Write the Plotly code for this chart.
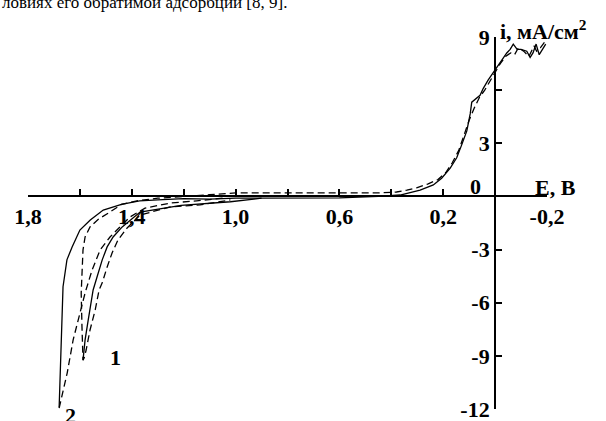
import plotly.graph_objects as go

# ---------------- data ----------------
# Curve 2, solid (anodic branch -> flat -> cathodic dive to -12)
e_s2 = [-0.195, -0.183, -0.17, -0.158, -0.146, -0.135, -0.122, -0.10, -0.085, -0.07, -0.058,
        -0.045, -0.02, 0.0, 0.027, 0.046, 0.058, 0.09, 0.096, 0.109, 0.128, 0.148, 0.173,
        0.206, 0.238, 0.289, 0.366, 0.45, 0.6, 0.8, 1.0, 1.1, 1.2, 1.3, 1.37, 1.44, 1.51,
        1.56, 1.60, 1.63, 1.65, 1.665, 1.67, 1.676, 1.68]
i_s2 = [8.6, 8.3, 8.0, 8.6, 8.1, 7.85, 8.2, 8.3, 8.3, 8.6, 8.3,
        8.1, 7.6, 7.15, 6.56, 6.09, 5.71, 5.32, 4.66, 3.70, 2.94, 2.18, 1.60,
        1.03, 0.65, 0.36, 0.08, 0.0, -0.08, -0.08, -0.1, -0.15, -0.12, -0.2, -0.25, -0.45, -0.77,
        -1.33, -1.9, -2.85, -3.58, -5.1, -7.4, -9.2, -11.9]

# Curve 2, dashed return from -12
e_d2 = [1.68, 1.649, 1.626, 1.60, 1.58, 1.553, 1.522, 1.484, 1.445, 1.407, 1.349, 1.25, 1.15, 1.05]
i_d2 = [-11.95, -9.97, -8.1, -6.58, -5.45, -4.15, -3.02, -2.29, -1.72, -1.16, -0.66, -0.37, -0.25, -0.1]

# Curve 1, dashed (anodic branch -> flat above axis -> dive to -9 -> back)
e_d1 = [-0.19, -0.175, -0.16, -0.15, -0.13, -0.11, -0.09, -0.075, -0.06, -0.04, -0.02, 0.0,
        0.02, 0.04, 0.06, 0.08, 0.1, 0.12, 0.14, 0.165, 0.19, 0.22, 0.26, 0.3, 0.34, 0.38,
        0.45, 0.6, 0.8, 1.0, 1.1, 1.2, 1.3, 1.38, 1.44, 1.484, 1.53, 1.561, 1.58, 1.588,
        1.592, 1.595, 1.592, 1.588, 1.588,
        1.583, 1.576, 1.561, 1.541, 1.526, 1.514, 1.495, 1.476, 1.453, 1.418, 1.368, 1.252,
        1.137, 1.02]
i_d1 = [8.7, 8.4, 8.2, 8.5, 7.9, 8.2, 8.4, 8.0, 8.1, 7.9, 7.5, 7.0,
        6.5, 6.0, 5.6, 5.0, 4.3, 3.4, 2.6, 1.9, 1.35, 0.95, 0.7, 0.5, 0.35, 0.25,
        0.2, 0.2, 0.2, 0.2, 0.1, 0.0, -0.1, -0.25, -0.45, -0.88, -1.3, -1.72, -2.29, -3.02,
        -4.15, -5.45, -7.37, -8.5, -9.24,
        -9.1, -8.67, -7.54, -6.41, -5.28, -4.88, -3.98, -3.19, -2.45, -1.78, -1.05, -0.59,
        -0.48, -0.2]

# Curve 1, solid return
e_s1 = [1.588, 1.58, 1.568, 1.549, 1.534, 1.514, 1.495, 1.472, 1.437, 1.368, 1.21, 1.02, 0.9]
i_s1 = [-9.24, -8.1, -6.98, -5.28, -4.55, -3.58, -2.85, -2.29, -1.72, -0.88, -0.5, -0.3, -0.1]

x_tickvals = [1.8, 1.6, 1.4, 1.2, 1.0, 0.8, 0.6, 0.4, 0.2, -0.2]
x_ticktext = ["1,8", "", "1,4", "", "1,0", "", "0,6", "", "0,2", "-0,2"]
y_tickvals = [-12, -9, -6, -3, 3, 6, 9]
y_ticktext = ["-12", "-9", "-6", "-3", "3", "", "9"]

top_text = "ловиях его обратимой адсорбции [8, 9]."

# ---------------- layout helpers ----------------
W, H = 606, 421
L, R, T, B = 28, 59, 37, 12
XR = [1.8, -0.2]
YR = [-12, 9]

def px(x):
    return (x - L) / (W - L - R)

def py(y):
    return (H - B - y) / (H - T - B)

FONT = "Liberation Serif"
bold = dict(family=FONT, size=22, color="black", weight="bold")

fig = go.Figure()
line_solid = dict(color="black", width=1.3)
line_dash = dict(color="black", width=1.3, dash="7px,4px")

fig.add_trace(go.Scatter(x=e_s2, y=i_s2, mode="lines", line=line_solid, showlegend=False))
fig.add_trace(go.Scatter(x=e_d2, y=i_d2, mode="lines", line=line_dash, showlegend=False))
fig.add_trace(go.Scatter(x=e_d1, y=i_d1, mode="lines", line=line_dash, showlegend=False))
fig.add_trace(go.Scatter(x=e_s1, y=i_s1, mode="lines", line=line_solid, showlegend=False))

fig.update_layout(
    width=W, height=H,
    margin=dict(l=L, r=R, t=T, b=B, autoexpand=False),
    paper_bgcolor="white", plot_bgcolor="white",
    xaxis=dict(range=XR, anchor="free", position=(0 - YR[0]) / (YR[1] - YR[0]),
               automargin=False, ticklabeloverflow="allow",
               showline=True, linecolor="black", linewidth=2, showgrid=False, zeroline=False,
               ticks="inside", ticklen=6, tickwidth=1.5, tickcolor="black",
               tickvals=x_tickvals, ticktext=x_ticktext, tickfont=bold),
    yaxis=dict(range=YR, anchor="free", position=(XR[0] - 0) / (XR[0] - XR[1]),
               automargin=False, ticklabeloverflow="allow",
               showline=True, linecolor="black", linewidth=2, showgrid=False, zeroline=False,
               ticks="inside", ticklen=6, tickwidth=1.5, tickcolor="black",
               tickvals=y_tickvals, ticktext=y_ticktext, tickfont=bold),
)

ann = [
    dict(x=px(483), y=py(186), text="0"),
    dict(x=px(578), y=py(187), text="E, B"),
    dict(x=px(108), y=py(372), text="1"),
]
for a in ann:
    fig.add_annotation(xref="paper", yref="paper", showarrow=False, font=bold, **a)
fig.add_annotation(xref="paper", yref="paper", x=px(498), y=py(14), text="i, мА/см<sup>2</sup>",
                   showarrow=False, xanchor="left", font=bold)
fig.add_annotation(xref="paper", yref="paper", x=px(63), y=py(401), text="2", showarrow=False,
                   yanchor="top", font=bold)
fig.add_annotation(xref="paper", yref="paper", x=px(0), y=py(14), text=top_text,
                   showarrow=False, xanchor="left", yanchor="bottom",
                   font=dict(family=FONT, size=17, color="black"))

fig.write_html("out.html")
